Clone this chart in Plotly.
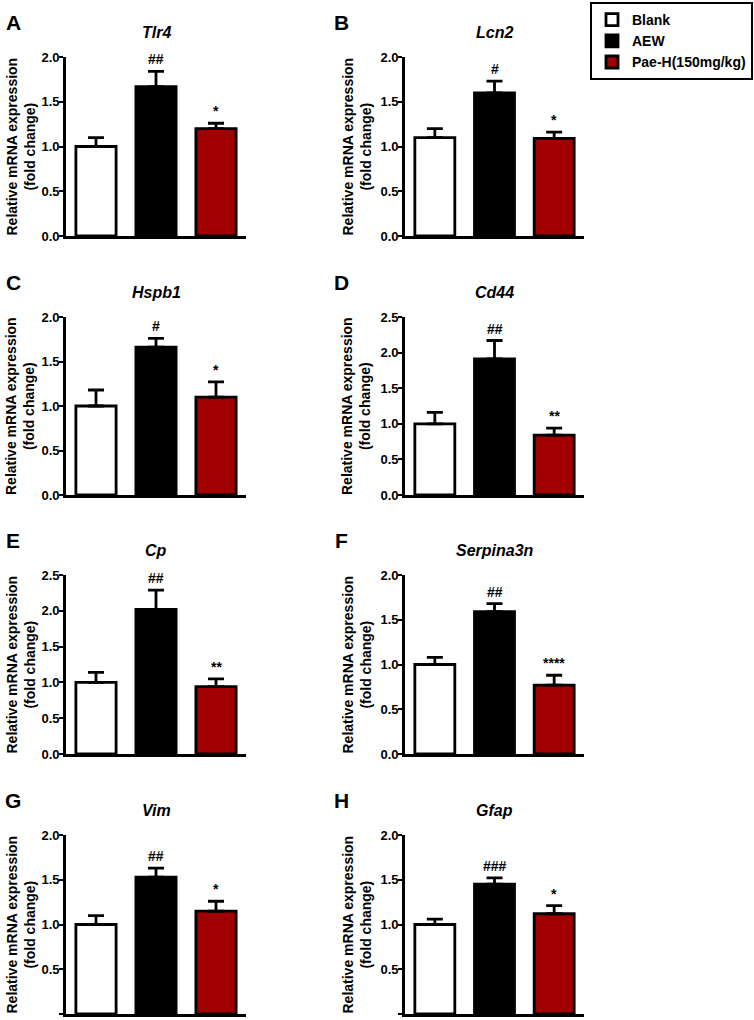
import plotly.graph_objects as go
from plotly.subplots import make_subplots

genes = ["Tlr4", "Lcn2", "Hspb1", "Cd44", "Cp", "Serpina3n", "Vim", "Gfap"]
panel_letters = ["A", "B", "C", "D", "E", "F", "G", "H"]
groups = ["Blank", "AEW", "Pae-H(150mg/kg)"]

blank_mean = [1.00, 1.10, 1.00, 1.00, 1.00, 1.00, 1.00, 1.00]
blank_sem = [0.10, 0.10, 0.18, 0.16, 0.14, 0.08, 0.10, 0.06]
aew_mean = [1.67, 1.60, 1.66, 1.91, 2.02, 1.59, 1.53, 1.45]
aew_sem = [0.17, 0.13, 0.10, 0.26, 0.27, 0.09, 0.10, 0.07]
pae_mean = [1.20, 1.09, 1.10, 0.84, 0.94, 0.77, 1.15, 1.12]
pae_sem = [0.06, 0.07, 0.17, 0.10, 0.11, 0.11, 0.11, 0.09]
aew_sig = ["##", "#", "#", "##", "##", "##", "##", "###"]
pae_sig = ["*", "*", "*", "**", "**", "****", "*", "*"]
y_max = [2.0, 2.0, 2.0, 2.5, 2.5, 2.0, 2.0, 2.0]
y_title = "Relative mRNA expression<br>(fold change)"

colors = ["white", "black", "#a00000"]
FONT = "Liberation Sans, Arial, sans-serif"
W, H = 754, 1020

# pixel layout of the panels (from the reference)
col_px = [(66, 246), (405, 584)]
row_px = [(57, 236), (317, 495), (575, 754), (835, 1014)]
letter_x = [13, 341]
ytitle_shift = [-46, -49]

fig = make_subplots(rows=4, cols=2)

for i, gene in enumerate(genes):
    r, c = i // 2 + 1, i % 2 + 1
    means = [blank_mean[i], aew_mean[i], pae_mean[i]]
    sems = [blank_sem[i], aew_sem[i], pae_sem[i]]
    for k in range(3):
        fig.add_trace(go.Bar(
            x=[k], y=[means[k]], name=groups[k], width=0.67,
            marker=dict(color=colors[k], line=dict(color="black", width=2.8)),
            error_y=dict(type="data", symmetric=False, array=[sems[k]], arrayminus=[0],
                         color="black", thickness=2.8, width=8),
            showlegend=(i == 0), legendgroup=groups[k],
        ), row=r, col=c)

    # significance marks
    for k, sig in [(1, aew_sig[i]), (2, pae_sig[i])]:
        fig.add_annotation(x=k, y=means[k] + sems[k], text=sig, showarrow=False,
                           yanchor="bottom", yshift=2,
                           font=dict(family=FONT, size=14, color="black", weight="bold"),
                           row=r, col=c)

    # gene title
    fig.add_annotation(x=0.5, y=1, xref="x domain", yref="y domain", text=gene,
                       showarrow=False, yanchor="middle", yshift=25,
                       font=dict(family=FONT, size=16, color="black", weight="bold", style="italic"),
                       row=r, col=c)

    # y axis title
    fig.add_annotation(x=0, y=0.5, xref="x domain", yref="y domain", text=y_title,
                       showarrow=False, textangle=-90, xanchor="center", yanchor="middle",
                       xshift=ytitle_shift[c - 1],
                       font=dict(family=FONT, size=14, color="black", weight="bold"),
                       row=r, col=c)

    # panel letter
    top = row_px[r - 1][0]
    fig.add_annotation(x=letter_x[c - 1] / W, y=1 - (top - 35) / H, xref="paper", yref="paper",
                       text=panel_letters[i], showarrow=False, xanchor="center", yanchor="middle",
                       font=dict(family=FONT, size=21, color="black", weight="bold"))

    x0, x1 = col_px[c - 1]
    y0, y1 = row_px[r - 1]
    fig.update_xaxes(domain=[x0 / W, x1 / W], range=[-0.5, 2.5], showticklabels=False,
                     ticks="", showline=True, linecolor="black", linewidth=2.8,
                     showgrid=False, zeroline=False, row=r, col=c)
    fig.update_yaxes(domain=[1 - y1 / H, 1 - y0 / H], range=[0, y_max[i]], dtick=0.5,
                     tickformat=".1f", ticks="outside", ticklen=4, tickwidth=2, tickcolor="black",
                     ticklabelstandoff=-3,
                     showline=True, linecolor="black", linewidth=2.8, showgrid=False,
                     zeroline=False, automargin=False,
                     tickfont=dict(family=FONT, size=13, color="black", weight="bold"),
                     row=r, col=c)

fig.update_layout(
    width=W, height=H,
    margin=dict(l=0, r=0, t=0, b=0),
    plot_bgcolor="white", paper_bgcolor="white",
    barmode="overlay",
    legend=dict(x=590 / W, y=1 - 2 / H, xanchor="left", yanchor="top",
                bordercolor="black", borderwidth=2, bgcolor="white",
                font=dict(family=FONT, size=14, color="black", weight="bold"),
                tracegroupgap=0),
)

# drop the default body margin so the figure sits at the page origin
fig.write_html("out.html", config={"displayModeBar": False},
               post_script="document.body.style.margin='0';")
